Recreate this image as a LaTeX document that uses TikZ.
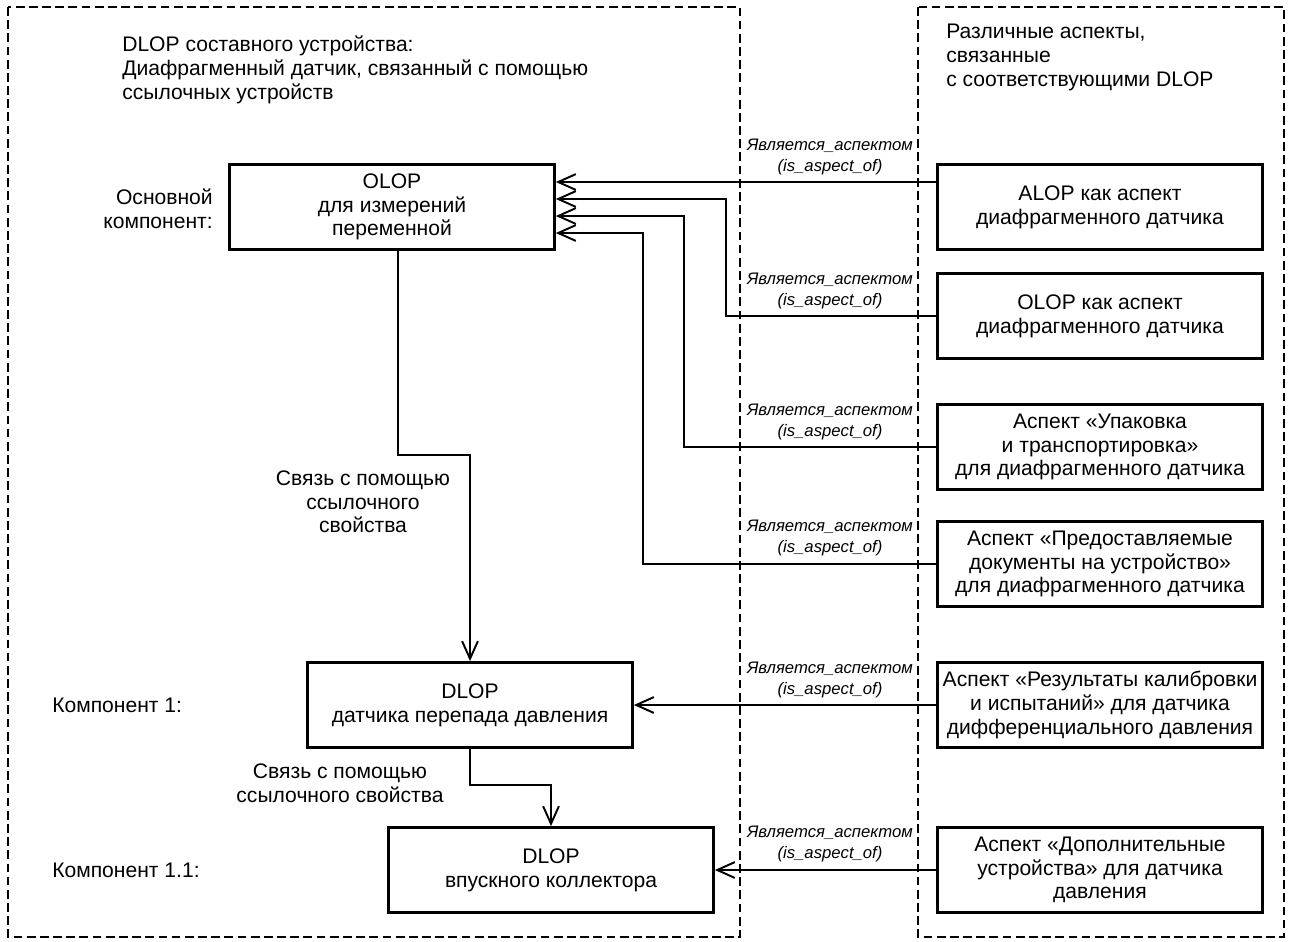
\documentclass[tikz,border=0pt]{standalone}
\usepackage{fontspec}
\setmainfont{Liberation Sans}
\usetikzlibrary{arrows.meta}
\begin{document}
\begin{tikzpicture}[x=0.02cm,y=-0.02cm,semithick]
\tikzset{every node/.style={font=\fontsize{12}{13.5}\selectfont}}
\tikzstyle{box}=[draw=black,line width=1.6pt,minimum width=6.5cm,minimum height=1.7cm,align=center,inner sep=2pt]
\tikzstyle{frame}=[draw=black,line width=1pt,dash pattern=on 5pt off 2.5pt]
\tikzstyle{note}=[align=center,inner sep=1pt]
\tikzstyle{asp}=[font=\fontsize{9.5}{11.5}\selectfont\itshape,align=center,inner sep=0pt,anchor=south]
\tikzstyle{ed}=[draw=black,line width=1.1pt,-{Straight Barb[length=10pt,width=9pt]}]
\useasboundingbox (0,0) rectangle (1292,941);
% frames
\draw[frame] (8,7) rectangle (740,937);
\draw[frame] (918,7) rectangle (1284,937);
\node[note,anchor=north west,align=left] (hdl) at (120,34) {DLOP составного устройства:\\Диафрагменный датчик, связанный с помощью\\ссылочных устройств};
\node[note,anchor=north west,align=left] (hdr) at (944,22) {Различные аспекты,\\связанные\\с соответствующими DLOP};
% vertices
\node[box] (olop) at (392,207) {OLOP\\для измерений\\переменной};
\node[box] (dlop1) at (470,705) {DLOP\\датчика перепада давления};
\node[box] (dlop2) at (551,870) {DLOP\\впускного коллектора};
\node[box] (alop) at (1100,207) {ALOP как аспект\\диафрагменного датчика};
\node[box] (olopa) at (1100,316) {OLOP как аспект\\диафрагменного датчика};
\node[box] (pack) at (1100,447) {Аспект «Упаковка\\и транспортировка»\\для диафрагменного датчика};
\node[box] (docs) at (1100,564) {Аспект «Предоставляемые\\документы на устройство»\\для диафрагменного датчика};
\node[box] (calib) at (1100,705) {Аспект «Результаты калибровки\\и испытаний» для датчика\\дифференциального давления};
\node[box] (acc) at (1100,870) {Аспект «Дополнительные\\устройства» для датчика\\давления};
% component labels
\node[note,anchor=east,align=right] (main) at (215,209) {Основной\\компонент:};
\node[note,anchor=west,align=left] (comp1) at (50,705) {Компонент 1:};
\node[note,anchor=west,align=left] (comp2) at (50,870) {Компонент 1.1:};
% references
\draw[ed] (olop.south -| 398,0) -- (398,455) -| (dlop1.north);
\node[note] (ref1) at (363,502) {Связь с помощью\\ссылочного\\свойства};
\draw[ed] (dlop1.south) |- (551,785) -- (dlop2.north);
\node[note] (ref2) at (340,783) {Связь с помощью\\ссылочного свойства};
% aspects
\draw[ed] (alop.west |- 0,182) -- (olop.east |- 0,182);
\draw[ed] (olopa.west) -| (726,199) -- (olop.east |- 0,199);
\draw[ed] (pack.west) -| (684,216) -- (olop.east |- 0,216);
\draw[ed] (docs.west) -| (643,233) -- (olop.east |- 0,233);
\draw[ed] (calib.west) -- (dlop1.east);
\draw[ed] (acc.west) -- (dlop2.east);
\node[asp] (is1) at (830,175) {Является\_аспектом\\(is\_aspect\_of)};
\node[asp] (is2) at (830,309) {Является\_аспектом\\(is\_aspect\_of)};
\node[asp] (is3) at (830,440) {Является\_аспектом\\(is\_aspect\_of)};
\node[asp] (is4) at (830,556) {Является\_аспектом\\(is\_aspect\_of)};
\node[asp] (is5) at (830,698) {Является\_аспектом\\(is\_aspect\_of)};
\node[asp] (is6) at (830,862) {Является\_аспектом\\(is\_aspect\_of)};
\end{tikzpicture}
\end{document}
